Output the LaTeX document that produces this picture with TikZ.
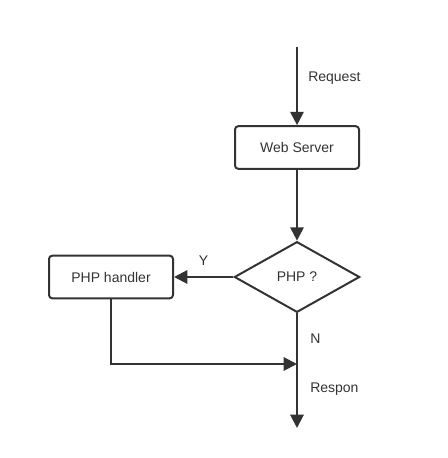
\documentclass[tikz,border=0pt]{standalone}
\usepackage{fontspec}
\setmainfont{Liberation Sans}
\usetikzlibrary{shapes.geometric,arrows.meta,positioning}

\definecolor{ink}{HTML}{333333}

\tikzset{
    box/.style={draw=ink, line width=1.5pt, rounded corners=2.5pt,
        minimum width=93pt, minimum height=32pt, inner sep=0pt, text=ink},
    choice/.style={draw=ink, line width=1.5pt, diamond, aspect=1.76,
        minimum width=94pt, minimum height=53pt, inner sep=0pt, text=ink},
    flow/.style={draw=ink, line width=1.5pt,
        -{Triangle[length=10pt, width=10pt]}},
    tag/.style={text=ink, inner sep=0pt},
}

\begin{document}
\begin{tikzpicture}[x=0.75pt, y=-0.75pt, font=\fontsize{10.5}{12}\selectfont]
    \useasboundingbox (0,0) rectangle (448,458);

    \coordinate (in) at (297,47);
    \node[box] (web) at (297,147.5) {Web Server};
    \node[choice] (php) at (297,277) {PHP ?};
    \node[box] (handler) at (111,277) {PHP handler};
    \coordinate (join) at (297,364);
    \coordinate (out) at (297,428);

    \draw[flow] (in) -- (web);
    \draw[flow] (web) -- (php);
    \draw[flow] (php) -- node[tag, above=8pt] {Y} (handler);
    \draw[flow] (php) -- (out);
    \draw[flow] (handler) |- (join);

    \node[tag, anchor=west] (req) at (308,78) {Request};
    \node[tag, anchor=west] (no) at (310,339) {N};
    \node[tag, anchor=west] (resp) at (310,389) {Respon};
\end{tikzpicture}
\end{document}
